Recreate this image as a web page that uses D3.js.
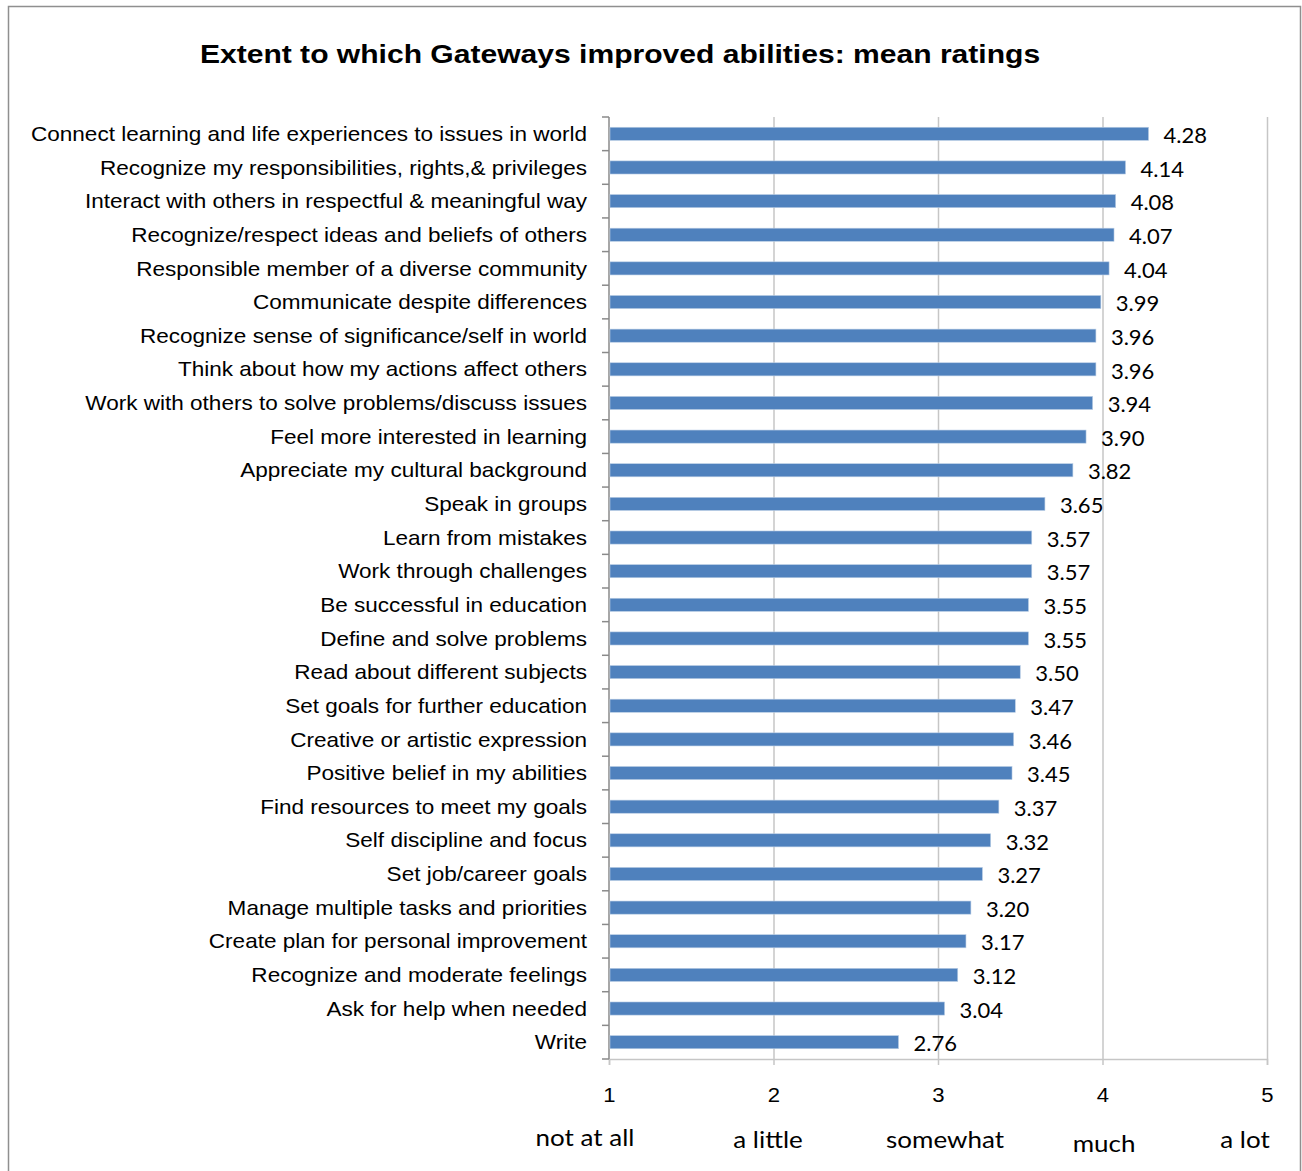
<!DOCTYPE html>
<html><head><meta charset="utf-8">
<script src="https://cdn.jsdelivr.net/npm/d3@7/dist/d3.min.js"></script>
<style>html,body{margin:0;padding:0;background:#fff;}svg{display:block;}</style>
</head><body>
<script>
const categories = [
  "Connect learning and life experiences to issues in world",
  "Recognize my responsibilities, rights,& privileges",
  "Interact with others in respectful & meaningful way",
  "Recognize/respect ideas and beliefs of others",
  "Responsible member of a diverse community",
  "Communicate despite differences",
  "Recognize sense of significance/self in world",
  "Think about how my actions affect others",
  "Work with others to solve problems/discuss issues",
  "Feel more interested in learning",
  "Appreciate my cultural background",
  "Speak in groups",
  "Learn from mistakes",
  "Work through challenges",
  "Be successful in education",
  "Define and solve problems",
  "Read about different subjects",
  "Set goals for further education",
  "Creative or artistic expression",
  "Positive belief in my abilities",
  "Find resources to meet my goals",
  "Self discipline and focus",
  "Set job/career goals",
  "Manage multiple tasks and priorities",
  "Create plan for personal improvement",
  "Recognize and moderate feelings",
  "Ask for help when needed",
  "Write"
];
const values = [4.28,4.14,4.08,4.07,4.04,3.99,3.96,3.96,3.94,3.90,3.82,3.65,3.57,3.57,3.55,3.55,3.50,3.47,3.46,3.45,3.37,3.32,3.27,3.20,3.17,3.12,3.04,2.76];
const tickValues = [1,2,3,4,5];
const scaleLabels = ["not at all","a little","somewhat","much","a lot"];
const chartTitle = "Extent to which Gateways improved abilities: mean ratings";

(function(){
const W = 1302, H = 1171;
const SX = 1.105; // horizontal stretch of the reference rendering
const svg = d3.select("body").append("svg").attr("width", W).attr("height", H);
svg.append("rect").attr("width", W).attr("height", H).attr("fill", "#fff");

// outer frame
svg.append("path").attr("d", `M8.5,${H+5}V6.5H1300.5V${H+5}`).attr("fill","none").attr("stroke","#8f8f8f").attr("stroke-width",1.5);

const pL = 609, pR = 1267, pT = 117, pB = 1059;
const x = d3.scaleLinear().domain([1,5]).range([pL, pR]);
const y = d3.scaleBand().domain(categories).range([pT, pB]).paddingInner(0.61).paddingOuter(0.305);

svg.append("text").attr("transform", `translate(620,63) scale(1.135,1)`).attr("text-anchor","middle")
  .attr("font-family","Liberation Sans, Arial, sans-serif").attr("font-weight","bold").attr("font-size",26.5)
  .attr("fill","#000").text(chartTitle);

// gridlines
svg.append("g").selectAll("line").data(tickValues.slice(1)).join("line")
  .attr("x1", d=>x(d)+0.5).attr("x2", d=>x(d)+0.5).attr("y1", pT).attr("y2", pB)
  .attr("stroke","#c6c6c6").attr("stroke-width",1.5);

// x axis
const xAxis = d3.axisBottom(x).tickValues(tickValues).tickSize(6).tickPadding(0).tickFormat(d3.format("d"));
const gx = svg.append("g").attr("transform",`translate(0,${pB})`).call(xAxis);
gx.select(".domain").attr("stroke","#c6c6c6").attr("stroke-width",1.5);
gx.selectAll(".tick line").attr("stroke","#c6c6c6").attr("stroke-width",1.5);
gx.selectAll(".tick text").attr("y",0).attr("dy",null).attr("transform",`translate(0,43) scale(${SX},1)`)
  .attr("font-family","Liberation Sans, Arial, sans-serif").attr("font-size",20).attr("fill","#000");

// y axis
const step = y.step();
const gy = svg.append("g").attr("transform",`translate(${pL},0)`);
gy.append("line").attr("x1",0).attr("x2",0).attr("y1",pT).attr("y2",pB).attr("stroke","#8a8a8a").attr("stroke-width",1.5);
gy.selectAll("line.tk").data(d3.range(categories.length+1)).join("line").attr("class","tk")
  .attr("x1",-7).attr("x2",0).attr("y1",i=>pT+i*step).attr("y2",i=>pT+i*step)
  .attr("stroke","#8a8a8a").attr("stroke-width",1.5);
gy.selectAll("text").data(categories).join("text")
  .attr("transform",d=>`translate(-22,${y(d)+y.bandwidth()/2}) scale(${SX},1)`).attr("dy","0.35em")
  .attr("text-anchor","end").attr("font-family","Liberation Sans, Arial, sans-serif").attr("font-size",20.4)
  .attr("fill","#000").text(d=>d);

// bars
svg.append("g").selectAll("rect").data(values).join("rect")
  .attr("x", pL+1).attr("y",(d,i)=>y(categories[i]))
  .attr("width", d=>x(d)-pL-1).attr("height", y.bandwidth())
  .attr("fill","#4f81bd").attr("stroke","#b9cde5").attr("stroke-width",0.6);

// value labels
svg.append("g").selectAll("text").data(values).join("text")
  .attr("x", d=>x(d)+15).attr("y",(d,i)=>y(categories[i])+y.bandwidth()/2+1.5).attr("dy","0.35em")
  .attr("font-family","Lato, Carlito, Calibri, sans-serif").attr("font-size",22).attr("fill","#000")
  .text(d=>d.toFixed(2));

// scale labels
const scaleX = [585, 768, 945, 1104, 1245];
const scaleY = [1146, 1148, 1148, 1152, 1148];
svg.append("g").selectAll("text").data(scaleLabels).join("text")
  .attr("transform",(d,i)=>`translate(${scaleX[i]},${scaleY[i]}) scale(1.13,1)`).attr("text-anchor","middle")
  .attr("font-family","Lato, Carlito, Calibri, sans-serif").attr("font-size",23).attr("fill","#000")
  .text(d=>d);
})();
</script>
</body></html>
